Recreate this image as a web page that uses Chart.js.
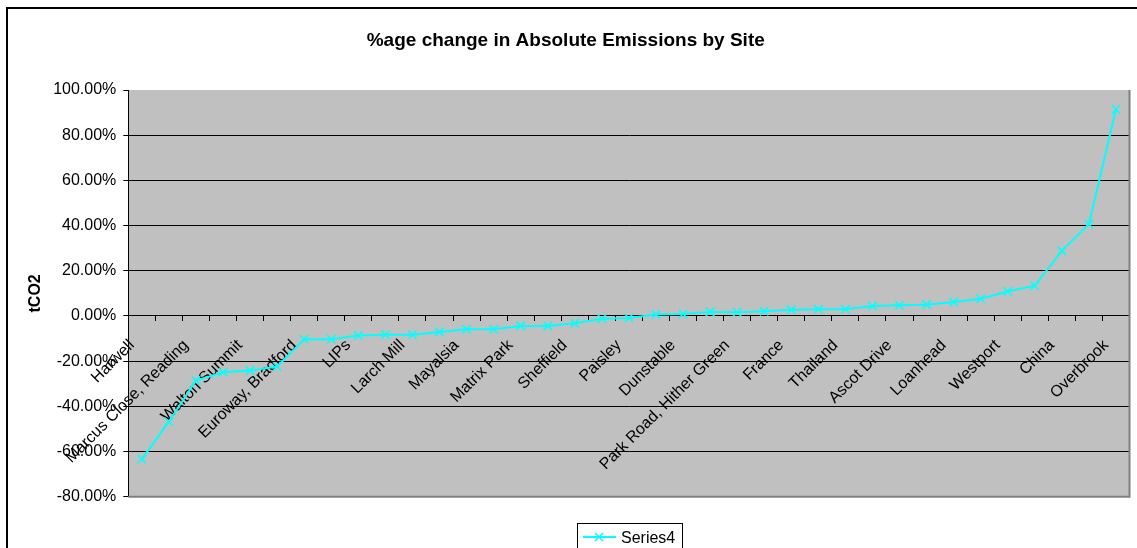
<!DOCTYPE html>
<html>
<head>
<meta charset="utf-8">
<script src="https://cdn.jsdelivr.net/npm/chart.js@4/dist/chart.umd.min.js"></script>
<style>
  html, body { margin: 0; padding: 0; background: #fff; }
  #wrap { width: 1137px; height: 548px; position: relative; }
</style>
</head>
<body>
<div id="wrap"><canvas id="c" width="1137" height="548"></canvas></div>
<script>
const chartTitle = '%age change in Absolute Emissions by Site';
const yAxisTitle = 'tCO2';
const seriesName = 'Series4';
const categories = [
  'Harwell', '', 'Marcus Close, Reading', '', 'Walton Summit', '', 'Euroway, Bradford', '',
  'LIPs', '', 'Larch Mill', '', 'Mayalsia', '', 'Matrix Park', '', 'Sheffield', '',
  'Paisley', '', 'Dunstable', '', 'Park Road, Hither Green', '', 'France', '',
  'Thailand', '', 'Ascot Drive', '', 'Loanhead', '', 'Westport', '', 'China', '', 'Overbrook'
];
const values = [
  -63.4, -46.8, -28.6, -24.9, -24.2, -22.4, -10.3, -10.3, -8.7, -8.3,
  -8.3, -7.1, -5.9, -5.9, -4.4, -4.4, -3.2, -1.2, -0.9, 0.6,
  0.9, 1.8, 1.6, 2.1, 2.7, 3.0, 3.0, 4.4, 4.7, 5.0,
  6.2, 7.6, 10.8, 13.4, 28.8, 40.6, 91.5
];
const yMin = -80, yMax = 100, yStep = 20;

const FONT = 'Arial, "Liberation Sans", Helvetica, sans-serif';
const LINE_COLOR = '#00FFFF';

const framePlugin = {
  id: 'frame',
  beforeDraw(chart) {
    const {ctx, chartArea: a} = chart;
    ctx.save();
    ctx.fillStyle = '#ffffff';
    ctx.fillRect(0, 0, chart.width, chart.height);
    ctx.strokeStyle = '#000000';
    ctx.lineWidth = 2;
    ctx.strokeRect(7, 8, chart.width + 50, chart.height + 50);
    ctx.fillStyle = '#C0C0C0';
    ctx.fillRect(a.left, a.top, a.right - a.left, a.bottom - a.top);
    ctx.restore();
  },
  afterDraw(chart) {
    const {ctx, chartArea: a} = chart;
    ctx.save();
    ctx.strokeStyle = '#808080';
    ctx.lineWidth = 2;
    ctx.beginPath();
    ctx.moveTo(a.right, a.top);
    ctx.lineTo(a.right, a.bottom);
    ctx.lineTo(a.left, a.bottom);
    ctx.stroke();
    // legend
    const ds = chart.data.datasets[0];
    const lx = 577, ly = 523, lw = 105, lh = 40;
    ctx.fillStyle = '#ffffff';
    ctx.fillRect(lx, ly, lw, lh);
    ctx.strokeStyle = '#000000';
    ctx.lineWidth = 1;
    ctx.strokeRect(lx + 0.5, ly + 0.5, lw, lh);
    ctx.strokeStyle = ds.borderColor;
    ctx.lineWidth = 2;
    ctx.beginPath();
    ctx.moveTo(583, 537);
    ctx.lineTo(616, 537);
    ctx.stroke();
    ctx.lineWidth = 1.5;
    const r = 4;
    ctx.beginPath();
    ctx.moveTo(599 - r, 537 - r); ctx.lineTo(599 + r, 537 + r);
    ctx.moveTo(599 - r, 537 + r); ctx.lineTo(599 + r, 537 - r);
    ctx.stroke();
    ctx.fillStyle = '#000000';
    ctx.font = '16px ' + FONT;
    ctx.textBaseline = 'alphabetic';
    ctx.textAlign = 'left';
    ctx.fillText(ds.label, 621, 543);
    ctx.restore();
  }
};

new Chart(document.getElementById('c'), {
  type: 'line',
  data: {
    labels: categories,
    datasets: [{
      label: seriesName,
      data: values,
      borderColor: LINE_COLOR,
      backgroundColor: LINE_COLOR,
      borderWidth: 2,
      pointStyle: 'crossRot',
      pointRadius: 6,
      pointBorderWidth: 1.5,
      pointBorderColor: LINE_COLOR,
      tension: 0,
      fill: false
    }]
  },
  options: {
    responsive: false,
    animation: false,
    devicePixelRatio: 1,
    layout: { padding: { left: 0, right: 5.5, top: 0, bottom: 51.3 } },
    plugins: {
      legend: { display: false },
      tooltip: { enabled: false },
      title: {
        display: true,
        text: chartTitle,
        color: '#000',
        font: { family: FONT, size: 19, weight: 'bold' },
        padding: { top: 29.6, bottom: 37.6 }
      }
    },
    scales: {
      x: {
        type: 'category',
        position: { y: 0 },
        offset: true,
        afterFit(scale) {
          scale.paddingLeft = 0;
          scale.paddingRight = 0;
          scale.paddingTop = 0;
          scale.paddingBottom = 0;
        },
        grid: {
          offset: true,
          drawOnChartArea: false,
          drawTicks: true,
          tickLength: 5,
          color: '#000',
          tickColor: '#000'
        },
        border: { display: true, color: '#000', width: 1 },
        ticks: {
          autoSkip: false,
          minRotation: 45,
          maxRotation: 45,
          color: '#000',
          padding: 15,
          labelOffset: -10,
          font: { family: FONT, size: 16 }
        }
      },
      y: {
        position: 'left',
        min: yMin,
        max: yMax,
        afterFit(scale) { scale.width = 128.3; },
        title: {
          display: true,
          text: yAxisTitle,
          color: '#000',
          font: { family: FONT, size: 16, weight: 'bold' },
          padding: { top: 26.4, bottom: 0 }
        },
        grid: {
          color: (ctx) => (ctx.tick && ctx.tick.value === yMax) ? 'rgba(0,0,0,0)' : '#000',
          tickColor: '#000',
          lineWidth: 1,
          drawTicks: true,
          tickLength: 5
        },
        border: { display: true, color: '#000', width: 1 },
        ticks: {
          stepSize: yStep,
          color: '#000',
          padding: 7,
          font: { family: FONT, size: 16 },
          callback: (v) => v.toFixed(2) + '%'
        }
      }
    }
  },
  plugins: [framePlugin]
});
</script>
</body>
</html>
